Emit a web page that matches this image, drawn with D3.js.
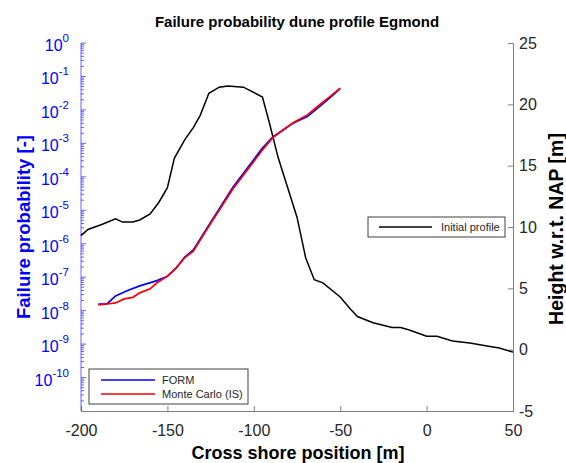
<!DOCTYPE html>
<html>
<head>
<meta charset="utf-8">
<script src="https://cdn.jsdelivr.net/npm/d3@7"></script>
<style>
  body { margin: 0; background: #fff; }
  text { font-family: "Liberation Sans", Arial, sans-serif; }
</style>
</head>
<body>
<div id="chart"></div>
<script>
// cross shore position [m] and dune height [m] of the initial profile
const profileX = [-200, -196, -188, -180, -176, -170, -166, -160, -155, -150, -146, -140, -135, -131, -126, -120, -115, -106, -95, -91, -86, -75, -70, -65, -60, -50, -44, -40, -31, -20, -15, -10, 0, 6, 15, 25, 35, 42, 50];
const profileZ = [9.3, 9.8, 10.2, 10.66, 10.4, 10.4, 10.57, 11.06, 12.0, 13.2, 15.6, 17.1, 18.1, 19.1, 20.9, 21.4, 21.5, 21.4, 20.6, 18.5, 15.7, 10.8, 7.5, 5.7, 5.45, 4.3, 3.3, 2.7, 2.2, 1.8, 1.8, 1.6, 1.1, 1.1, 0.7, 0.55, 0.3, 0.14, -0.2];

// failure probability, FORM
const formX = [-190, -185, -180, -173, -166, -156, -150, -145, -140, -135, -126, -112, -95, -89, -77, -69, -62, -56, -50];
const formP = [1.58e-8, 1.58e-8, 2.75e-8, 3.98e-8, 5.5e-8, 7.9e-8, 1.07e-7, 1.86e-7, 3.98e-7, 6.5e-7, 3.6e-6, 5.0e-5, 7.2e-4, 1.55e-3, 4.1e-3, 6.3e-3, 1.26e-2, 2.3e-2, 4.3e-2];

// failure probability, Monte Carlo (importance sampling)
const mcX = [-190, -185, -180, -175, -170, -166, -160, -156, -150, -145, -140, -135, -126, -112, -95, -89, -77, -69, -62, -56, -50];
const mcP = [1.48e-8, 1.58e-8, 1.7e-8, 2.24e-8, 2.5e-8, 3.4e-8, 4.5e-8, 6.8e-8, 1.07e-7, 1.86e-7, 3.8e-7, 6.0e-7, 3.3e-6, 4.4e-5, 6.3e-4, 1.48e-3, 4.2e-3, 7.1e-3, 1.4e-2, 2.5e-2, 4.5e-2];

const xTicks = [-200, -150, -100, -50, 0, 50];
const pExponents = [0, -1, -2, -3, -4, -5, -6, -7, -8, -9, -10];
const zTicks = [-5, 0, 5, 10, 15, 20, 25];

const W = 566, H = 463;
const margin = {top: 43, right: 53, bottom: 52, left: 81},
      width = W - margin.left - margin.right,
      height = H - margin.top - margin.bottom;

const blue = "#0000ff", red = "#ff0000", axGray = "#808080", txt = "#262626";

const svg = d3.select("#chart")
  .append("svg")
  .attr("width", W)
  .attr("height", H);

const g = svg.append("g")
  .attr("transform", `translate(${margin.left},${margin.top})`);

const x = d3.scaleLinear().domain([-200, 50]).range([0, width]);
const yP = d3.scaleLog().domain([1e-11, 1]).range([height, 0]);
const yZ = d3.scaleLinear().domain([-5, 25]).range([height, 0]);

// bottom axis (ticks inside)
const xAxis = g.append("g")
  .attr("transform", `translate(0,${height})`)
  .call(d3.axisBottom(x).tickValues(xTicks).tickSize(-5).tickPadding(14));
xAxis.select(".domain").attr("stroke", axGray);
xAxis.selectAll(".tick line").attr("stroke", axGray);
xAxis.selectAll("text").style("font-size", "16px").attr("fill", txt).text(d => String(d));

// right axis
const zAxis = g.append("g")
  .attr("transform", `translate(${width},0)`)
  .call(d3.axisRight(yZ).tickValues(zTicks).tickSize(-5).tickPadding(6));
zAxis.select(".domain").attr("stroke", axGray);
zAxis.selectAll(".tick line").attr("stroke", axGray);
zAxis.selectAll("text").style("font-size", "16px").attr("fill", txt).text(d => String(d));

// left log axis, blue, with minor ticks
const minor = [];
for (let e = -11; e < 0; e++) for (let k = 2; k <= 9; k++) minor.push(k * Math.pow(10, e));
const pAxis = g.append("g");
pAxis.append("line")
  .attr("x1", 0).attr("x2", 0).attr("y1", 0).attr("y2", height)
  .attr("stroke", blue).attr("stroke-opacity", 0.6);
pAxis.selectAll(".minor")
  .data(minor)
  .join("line")
  .attr("x1", 0).attr("x2", 3)
  .attr("y1", d => yP(d)).attr("y2", d => yP(d))
  .attr("stroke", blue).attr("stroke-opacity", 0.6);
pAxis.selectAll(".major")
  .data(pExponents)
  .join("line")
  .attr("x1", 0).attr("x2", 5)
  .attr("y1", d => yP(Math.pow(10, d))).attr("y2", d => yP(Math.pow(10, d)))
  .attr("stroke", blue).attr("stroke-opacity", 0.6);
const pLab = pAxis.selectAll(".lab")
  .data(pExponents)
  .join("text")
  .attr("x", -12)
  .attr("y", d => yP(Math.pow(10, d)) + 8)
  .attr("text-anchor", "end")
  .attr("fill", blue)
  .style("font-size", "16px");
pLab.append("tspan").text("10");
pLab.append("tspan").attr("dy", -9).style("font-size", "11.5px").text(d => String(d));

// lines
const lineZ = d3.line().x((d, i) => x(profileX[i])).y(d => yZ(d));
const lineP = xs => d3.line().x((d, i) => x(xs[i])).y(d => yP(d));

g.append("path").datum(profileZ)
  .attr("fill", "none").attr("stroke", "#000").attr("stroke-width", 1.5)
  .attr("d", lineZ);
g.append("path").datum(formP)
  .attr("fill", "none").attr("stroke", blue).attr("stroke-width", 1.7)
  .attr("d", lineP(formX));
g.append("path").datum(mcP)
  .attr("fill", "none").attr("stroke", red).attr("stroke-width", 1.7)
  .attr("d", lineP(mcX));

// legend for probabilities
const leg1 = svg.append("g").attr("transform", "translate(89,369)");
leg1.append("rect").attr("width", 159).attr("height", 35)
  .attr("fill", "#fff").attr("stroke", "#404040").attr("stroke-width", 1);
[["FORM", blue], ["Monte Carlo (IS)", red]].forEach(([name, col], i) => {
  const yy = 11 + i * 14;
  leg1.append("line").attr("x1", 12).attr("x2", 66).attr("y1", yy).attr("y2", yy)
    .attr("stroke", col).attr("stroke-width", 1.7);
  leg1.append("text").attr("x", 73).attr("y", yy + 4)
    .style("font-size", "11px").attr("fill", txt).text(name);
});

// legend for profile
const leg2 = svg.append("g").attr("transform", "translate(368,217)");
leg2.append("rect").attr("width", 137).attr("height", 20)
  .attr("fill", "#fff").attr("stroke", "#404040").attr("stroke-width", 1);
leg2.append("line").attr("x1", 11).attr("x2", 64).attr("y1", 10).attr("y2", 10)
  .attr("stroke", "#000").attr("stroke-width", 1.5);
leg2.append("text").attr("x", 73).attr("y", 14)
  .style("font-size", "11px").attr("fill", txt).text("Initial profile");

// title and axis labels
svg.append("text")
  .attr("x", margin.left + width / 2).attr("y", 27)
  .attr("text-anchor", "middle").style("font-size", "15px").style("font-weight", "bold")
  .text("Failure probability dune profile Egmond");

svg.append("text")
  .attr("x", 298).attr("y", 459)
  .attr("text-anchor", "middle").style("font-size", "18px").style("font-weight", "bold")
  .text("Cross shore position [m]");

svg.append("text")
  .attr("transform", `translate(30,227) rotate(-90)`)
  .attr("text-anchor", "middle").style("font-size", "18.5px").style("font-weight", "bold")
  .attr("fill", blue)
  .text("Failure probability [-]");

svg.append("text")
  .attr("transform", `translate(563,229) rotate(-90)`)
  .attr("text-anchor", "middle").style("font-size", "19.5px").style("font-weight", "bold")
  .text("Height w.r.t. NAP [m]");
</script>
</body>
</html>
